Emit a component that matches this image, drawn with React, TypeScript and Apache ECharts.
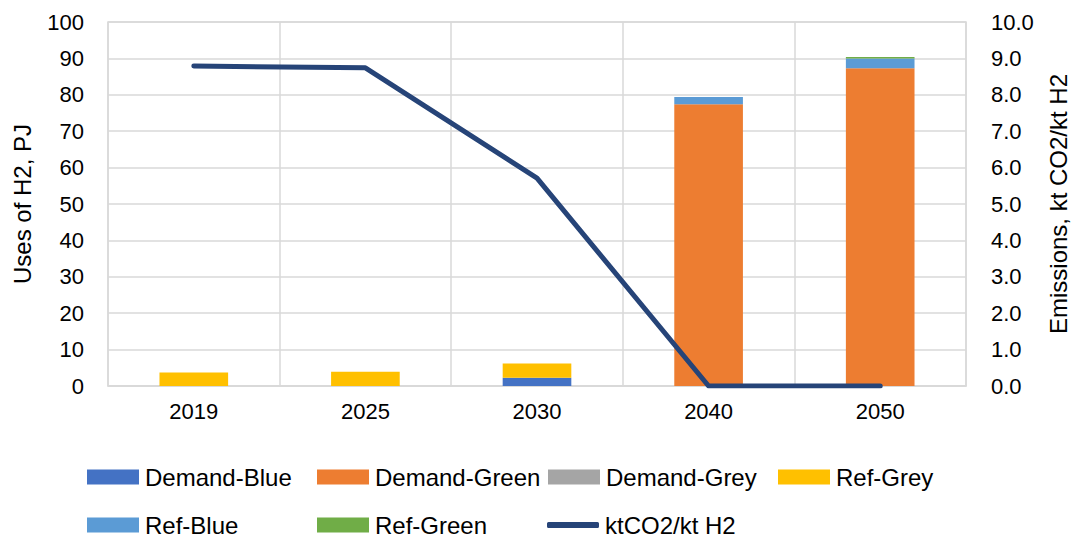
import React, { useEffect, useRef } from "react";
import * as echarts from "echarts";

const years = ["2019", "2025", "2030", "2040", "2050"];
const demandBlue = [0, 0, 2.3, 0, 0];
const demandGreen = [0, 0, 0, 77.4, 87.3];
const demandGrey = [0, 0, 0, 0, 0];
const refGrey = [3.7, 3.9, 3.9, 0, 0];
const refBlue = [0, 0, 0, 2.0, 2.7];
const refGreen = [0, 0, 0, 0, 0.4];
const emissions = [8.79, 8.74, 5.71, 0, 0];

const FONT = "Liberation Sans, Arial, sans-serif";
const GRID = "#D9D9D9";

const barSeries = [
  { name: "Demand-Blue", data: demandBlue, color: "#4472C4" },
  { name: "Demand-Green", data: demandGreen, color: "#ED7D31" },
  { name: "Demand-Grey", data: demandGrey, color: "#A5A5A5" },
  { name: "Ref-Grey", data: refGrey, color: "#FFC000" },
  { name: "Ref-Blue", data: refBlue, color: "#5B9BD5" },
  { name: "Ref-Green", data: refGreen, color: "#70AD47" },
];

// legend slots: [name, left, top]
const legendSlots: [string, number, number][] = [
  ["Demand-Blue", 87, 465],
  ["Demand-Green", 317, 465],
  ["Demand-Grey", 548, 465],
  ["Ref-Grey", 778, 465],
  ["Ref-Blue", 87, 513],
  ["Ref-Green", 317, 513],
  ["ktCO2/kt H2", 547, 513],
];

export default function App() {
  const ref = useRef<HTMLDivElement>(null);

  useEffect(() => {
    if (!ref.current) return;
    const chart = echarts.init(ref.current, null, { renderer: "svg" });

    const legends = legendSlots.map(([name, left, top]) => {
      const isLine = name === "ktCO2/kt H2";
      return {
        left,
        top,
        padding: 0,
        itemWidth: 52,
        itemHeight: isLine ? 6 : 15,
        itemGap: 0,
        selectedMode: false,
        icon: isLine ? "roundRect" : "rect",
        textStyle: { fontFamily: FONT, fontSize: 24, color: "#000", padding: [0, 0, 0, 1] },
        data: [name],
      };
    });

    chart.setOption({
      animation: false,
      backgroundColor: "#fff",
      textStyle: { fontFamily: FONT },
      legend: legends,
      grid: {
        left: 108,
        right: 112,
        top: 22,
        bottom: 152,
        show: true,
        borderColor: GRID,
        borderWidth: 1.5,
        containLabel: false,
      },
      xAxis: {
        type: "category",
        data: years,
        boundaryGap: true,
        axisLine: { show: true, lineStyle: { color: GRID, width: 1.5 } },
        axisTick: { show: false },
        splitLine: { show: true, lineStyle: { color: GRID, width: 1.5 } },
        axisLabel: { fontSize: 22, color: "#000", margin: 14, fontFamily: FONT },
      },
      yAxis: [
        {
          type: "value",
          min: 0,
          max: 100,
          interval: 10,
          name: "Uses of H2, PJ",
          nameLocation: "middle",
          nameGap: 74,
          nameTextStyle: { fontSize: 24, color: "#000", fontFamily: FONT },
          axisLine: { show: false },
          axisTick: { show: false },
          splitLine: { show: true, lineStyle: { color: GRID, width: 1.5 } },
          axisLabel: { fontSize: 22, color: "#000", margin: 24, fontFamily: FONT },
        },
        {
          type: "value",
          min: 0,
          max: 10,
          interval: 1,
          name: "Emissions, kt CO2/kt H2",
          nameLocation: "middle",
          nameGap: 80,
          nameTextStyle: { fontSize: 24, color: "#000", fontFamily: FONT },
          axisLine: { show: false },
          axisTick: { show: false },
          splitLine: { show: false },
          axisLabel: {
            fontSize: 22,
            color: "#000",
            margin: 25,
            fontFamily: FONT,
            formatter: (v: number) => v.toFixed(1),
          },
        },
      ],
      series: [
        ...barSeries.map((s) => ({
          name: s.name,
          type: "bar",
          stack: "uses",
          barWidth: "40%",
          data: s.data,
          itemStyle: { color: s.color },
          yAxisIndex: 0,
        })),
        {
          name: "ktCO2/kt H2",
          type: "line",
          yAxisIndex: 1,
          data: emissions,
          symbol: "none",
          z: 5,
          itemStyle: { color: "#264478" },
          lineStyle: { color: "#264478", width: 5, cap: "round", join: "round" },
        },
      ],
    });

    return () => chart.dispose();
  }, []);

  return (
    <div
      ref={ref}
      style={{ position: "fixed", left: 0, top: 0, width: 1078, height: 538 }}
    />
  );
}
